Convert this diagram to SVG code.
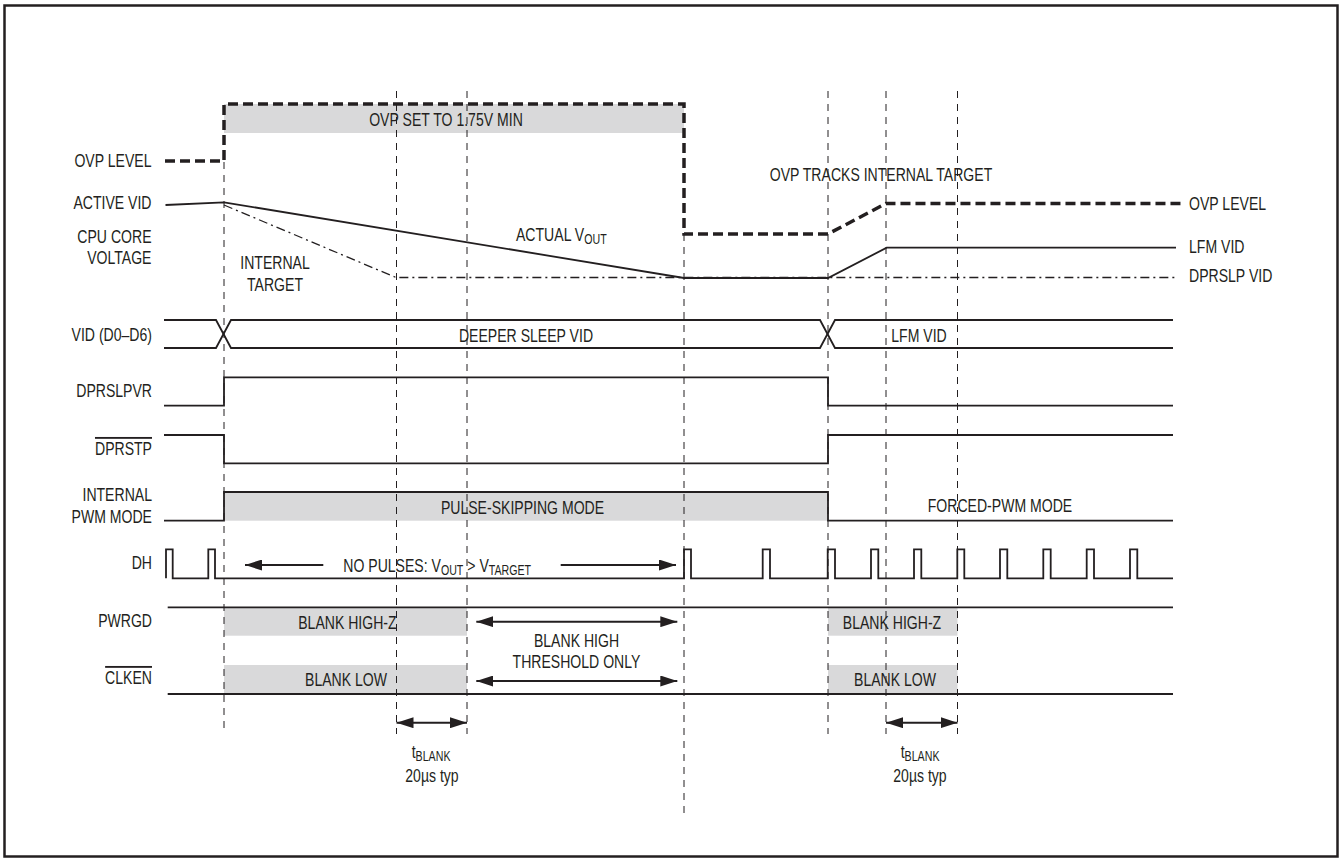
<svg xmlns="http://www.w3.org/2000/svg" width="1341" height="860" viewBox="0 0 1341 860">
<defs>
<marker id="ah" markerUnits="userSpaceOnUse" markerWidth="18" markerHeight="11" refX="17" refY="5.5" orient="auto-start-reverse"><path d="M0,0 L17,5.5 L0,11 z" fill="#231f20"/></marker>
<style>
text{font-family:"Liberation Sans",Arial,sans-serif;font-size:18.5px;fill:#231f20;transform-box:fill-box;transform:scaleX(0.76);transform-origin:left center}
.r{text-anchor:end;transform-origin:right center}
.m{text-anchor:middle;transform-origin:center center}
.sub{font-size:14px}
.ov{text-decoration:overline}
.sig{fill:none;stroke:#231f20;stroke-width:1.8}
.grid{fill:none;stroke:#231f20;stroke-width:1;stroke-dasharray:7 6}
.ovp{fill:none;stroke:#231f20;stroke-width:3.5;stroke-dasharray:10 5}
.dd{fill:none;stroke:#231f20;stroke-width:1.3;stroke-dasharray:9 4 2 4}
.gray{fill:#d9d9da}
.arr{fill:none;stroke:#231f20;stroke-width:2}
</style>
</defs>
<rect x="0" y="0" width="1341" height="860" fill="#fff"/>
<rect x="4.5" y="5.5" width="1333" height="851" fill="none" stroke="#231f20" stroke-width="2.5"/>

<g id="shading">
<rect class="gray" x="224" y="104" width="460" height="29"/>
<rect class="gray" x="224" y="492" width="604" height="28.7"/>
<rect class="gray" x="224" y="607.3" width="243" height="28.4"/>
<rect class="gray" x="828" y="607.3" width="129.5" height="28.4"/>
<rect class="gray" x="224" y="665" width="243" height="29"/>
<rect class="gray" x="828" y="665" width="129.5" height="29"/>
</g>

<g id="gridlines">
<path class="grid" d="M224,162 V734"/>
<path class="grid" d="M396.5,91 V734"/>
<path class="grid" d="M467,91 V734"/>
<path class="grid" d="M684,234 V814"/>
<path class="grid" d="M828,91 V734"/>
<path class="grid" d="M886,91 V734"/>
<path class="grid" d="M957.5,91 V734"/>
</g>

<g id="cpu-core">
<path class="ovp" d="M165,161 H224 V104 H684 V234 H828 L886,203.5 H1181"/>
<path class="sig" d="M165.5,205 L224,202.3 L684,278 H828 L886.7,247.7 H1176"/>
<path class="dd" d="M224,205 L396,277.5 H1177"/>
<text class="m" x="446" y="126">OVP SET TO 1.75V MIN</text>
<text class="r" x="151.5" y="167">OVP LEVEL</text>
<text class="r" x="151.5" y="209">ACTIVE VID</text>
<text class="r" x="151.5" y="243">CPU CORE</text>
<text class="r" x="151.5" y="264.5">VOLTAGE</text>
<text class="m" x="275" y="269.5">INTERNAL</text>
<text class="m" x="275" y="291">TARGET</text>
<text x="516" y="241">ACTUAL V<tspan class="sub" dy="3.5">OUT</tspan></text>
<text class="m" x="881" y="181.5">OVP TRACKS INTERNAL TARGET</text>
<text x="1189" y="210">OVP LEVEL</text>
<text x="1189" y="253">LFM VID</text>
<text x="1189" y="282">DPRSLP VID</text>
</g>

<g id="vid">
<path class="sig" d="M164,320 H216 L231,348 H820 L835,320 H1173"/>
<path class="sig" d="M164,348 H216 L231,320 H820 L835,348 H1173"/>
<text class="r" x="152" y="340.7">VID (D0–D6)</text>
<text class="m" x="526" y="341.7">DEEPER SLEEP VID</text>
<text class="m" x="919" y="341.7">LFM VID</text>
</g>

<g id="dprslpvr">
<path class="sig" d="M164,405.7 H224 V377.3 H828 V405.7 H1173"/>
<text class="r" x="152" y="397">DPRSLPVR</text>
</g>

<g id="dprstp">
<path class="sig" d="M164,435 H224 V463.3 H828 V435 H1173"/>
<text class="r ov" x="152" y="455">DPRSTP</text>
</g>

<g id="pwm-mode">
<path class="sig" d="M164,520.7 H224 V492 H828 V520.7 H1173"/>
<text class="r" x="152" y="501">INTERNAL</text>
<text class="r" x="152" y="523.3">PWM MODE</text>
<text class="m" x="522.5" y="514.3">PULSE-SKIPPING MODE</text>
<text class="m" x="1000" y="512">FORCED-PWM MODE</text>
</g>

<g id="dh">
<path class="sig" d="M166,578.3 V549.3 H172.7 V578.3 H208.3 V549.3 H215 V578.3 H684 V549.3 H691 V578.3 H762.7 V549.3 H770 V578.3 H827.7 V549.3 H835 V578.3 H871 V549.3 H878.3 V578.3 H914 V549.3 H921.3 V578.3 H957.3 V549.3 H964.3 V578.3 H1000 V549.3 H1007.3 V578.3 H1043.3 V549.3 H1050.7 V578.3 H1086.7 V549.3 H1094 V578.3 H1130 V549.3 H1137.3 V578.3 H1173"/>
<text class="r" x="152" y="569.3">DH</text>
<text x="343.3" y="571.7">NO PULSES: V<tspan class="sub" dy="3.5">OUT</tspan><tspan dy="-3.5"> &gt; V</tspan><tspan class="sub" dy="3.5">TARGET</tspan></text>
</g>

<g id="pwrgd">
<path class="sig" d="M167.7,607.3 H1173"/>
<text class="r" x="152" y="627.3">PWRGD</text>
<text class="m" x="347.4" y="629">BLANK HIGH-Z</text>
<text class="m" x="892" y="629">BLANK HIGH-Z</text>
</g>

<g id="clken">
<path class="sig" d="M167.7,694 H1173"/>
<text class="r ov" x="152" y="684">CLKEN</text>
<text class="m" x="346" y="686">BLANK LOW</text>
<text class="m" x="895" y="686">BLANK LOW</text>
<text class="m" x="576.5" y="646.7">BLANK HIGH</text>
<text class="m" x="576.5" y="668">THRESHOLD ONLY</text>
</g>

<g id="tblank-labels">
<text class="m" x="431" y="758.5">t<tspan class="sub" dy="3">BLANK</tspan></text>
<text class="m" x="432" y="782.5">20µs typ</text>
<text class="m" x="920" y="758.5">t<tspan class="sub" dy="3">BLANK</tspan></text>
<text class="m" x="920" y="782.5">20µs typ</text>
</g>

<g id="connectors">
<path class="arr" d="M323.3,565 H245" marker-end="url(#ah)"/>
<path class="arr" d="M560.7,565 H676" marker-end="url(#ah)"/>
<path class="arr" d="M476.3,621.7 H677.3" marker-start="url(#ah)" marker-end="url(#ah)"/>
<path class="arr" d="M476.3,681 H677.3" marker-start="url(#ah)" marker-end="url(#ah)"/>
<path class="arr" d="M396.5,722.7 H467" marker-start="url(#ah)" marker-end="url(#ah)"/>
<path class="arr" d="M886,722.7 H957.5" marker-start="url(#ah)" marker-end="url(#ah)"/>
</g>
</svg>
